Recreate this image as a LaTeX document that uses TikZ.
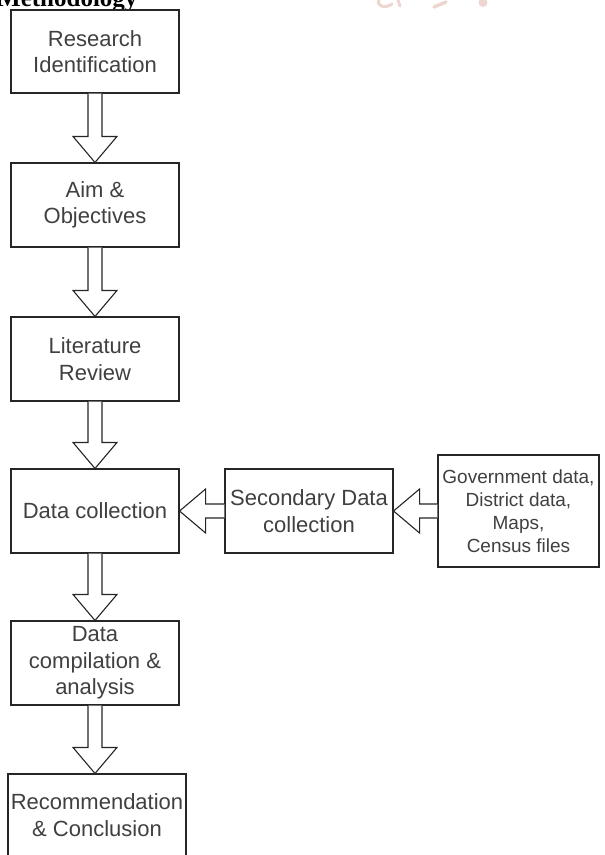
\documentclass[tikz,border=0pt]{standalone}
\usepackage{fontspec}
\setmainfont{Liberation Sans}
\newfontfamily\hdfont{Liberation Serif}
\usetikzlibrary{calc}
\definecolor{linec}{HTML}{262626}
\definecolor{txtc}{HTML}{404040}
\definecolor{wm}{RGB}{238,214,208}
\begin{document}
\begin{tikzpicture}[x=1pt,y=1pt,
  box/.style={draw=linec, line width=1.1pt, fill=white, text=txtc, align=center,
    font=\fontsize{22}{26.5}\selectfont, inner sep=0pt, minimum width=168pt, minimum height=84pt},
  smallbox/.style={box, font=\fontsize{19}{23}\selectfont},
  blockarrow/.style={draw=linec, line width=1.1pt, fill=white, line join=miter,
    to path={let \p1=($(\tikztotarget)-(\tikztostart)$), \n1={veclen(\x1,\y1)}, \n2={atan2(\y1,\x1)} in
      [shift={(\tikztostart)}, rotate=\n2]
      (0,-7) -- (\n1-26,-7) -- (\n1-26,-22) -- (\n1,0) -- (\n1-26,22) -- (\n1-26,7) -- (0,7)}}
]
\useasboundingbox (0,0) rectangle (605,-855);
\clip (0,0) rectangle (605,-855);

% faint watermark fragments
\draw[wm, line width=3pt, line cap=round] (379,0) .. controls (376,-6) and (385,-9) .. (392,-4);
\draw[wm, line width=3pt, line cap=round] (398,0) -- (400,-6);
\draw[wm, line width=3.5pt, line cap=round] (434,-7) -- (446,-2);
\fill[wm] (483,-2.5) circle (4.5pt);

% title
\node[anchor=base west, font=\hdfont\bfseries\fontsize{25}{30}\selectfont, inner sep=0pt] (title) at (-3,-6) {Methodology};

% boxes
\node[box, minimum height=83pt] (b1) at (95,-51.5) {Research\\Identification};
\node[box] (b2) at (95,-205) {Aim \&\\Objectives};
\node[box] (b3) at (95,-359) {Literature\\Review};
\node[box] (b4) at (95,-511) {Data collection};
\node[box] (b5) at (95,-663) {Data\\compilation \&\\analysis};
\node[box, minimum width=178pt, minimum height=82pt] (b6) at (97,-815) {Recommendation\\\& Conclusion};
\node[box] (sec) at (309,-511) {Secondary Data\\collection};
\node[smallbox, minimum width=161pt, minimum height=112pt] (gov) at (518.5,-511) {Government data,\\District data,\\Maps,\\Census files};

% block arrows
\draw[blockarrow] (b1.south) to (b2.north);
\draw[blockarrow] (b2.south) to (b3.north);
\draw[blockarrow] (b3.south) to (b4.north);
\draw[blockarrow] (b4.south) to (b5.north);
\draw[blockarrow] (b5.south) to (b5.south |- b6.north);
\draw[blockarrow] (sec.west) to (b4.east);
\draw[blockarrow] (gov.west) to (sec.east);
\end{tikzpicture}
\end{document}
